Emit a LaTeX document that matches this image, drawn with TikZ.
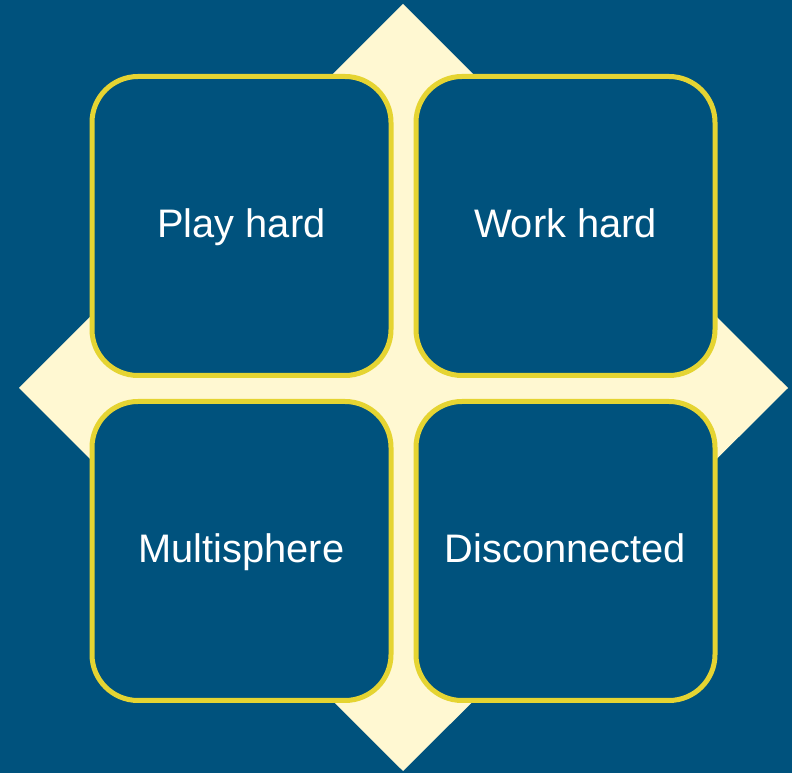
\documentclass[tikz,border=0pt]{standalone}
\usepackage{fontspec}
\setmainfont{Liberation Sans}
\usetikzlibrary{positioning}
\definecolor{bgblue}{HTML}{00527D}
\definecolor{cream}{HTML}{FFF8D2}
\definecolor{rimyellow}{HTML}{E5D432}

\begin{document}
\begin{tikzpicture}[x=1pt, y=1pt,
  quad/.style={draw=rimyellow, line width=5pt, fill=bgblue, rounded corners=46pt,
    minimum width=299pt, minimum height=299pt, inner sep=0pt,
    text height=28pt, text depth=4pt,
    text=white, font=\fontsize{39.8}{47}\selectfont}]
\fill[bgblue] (0,0) rectangle (792,773);
\fill[cream] (403,769) -- (788,385) -- (403,2) -- (19,385) -- cycle;
\node[quad] (play) at (241.5,547) {Play hard};
\node[quad, right=20pt of play] (work) {Work hard};
\node[quad, below=21pt of play] (multi) {Multisphere};
\node[quad, below=21pt of work] (discon) {Disconnected};
\end{tikzpicture}
\end{document}
